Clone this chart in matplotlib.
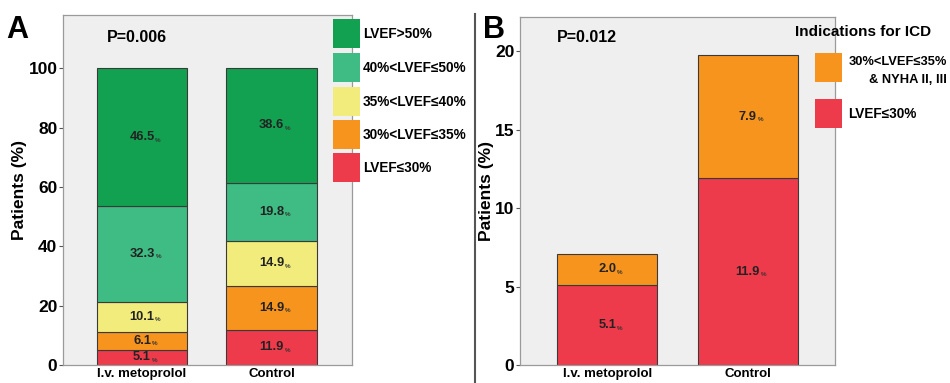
import matplotlib
matplotlib.use("Agg")
import matplotlib.pyplot as plt
from matplotlib.patches import Rectangle
from matplotlib.lines import Line2D

plt.rcParams["font.family"] = ["Liberation Sans", "DejaVu Sans"]
plt.rcParams["font.weight"] = "bold"

GROUPS = ["I.v. metoprolol", "Control"]

# panel A: LVEF categories, bottom -> top
A_LABELS = ["LVEF\u226430%", "30%<LVEF\u226435%", "35%<LVEF\u226440%", "40%<LVEF\u226450%", "LVEF>50%"]
A_METO = [5.1, 6.1, 10.1, 32.3, 46.5]
A_CTRL = [11.9, 14.9, 14.9, 19.8, 38.6]
A_COLORS = ["#ee3b4b", "#f7941e", "#f1ec7c", "#3fbb84", "#12a150"]

# panel B: indications for ICD, bottom -> top
B_LABELS = ["LVEF\u226430%", "30%<LVEF\u226435%", "& NYHA II, III"]
B_METO = [5.1, 2.0]
B_CTRL = [11.9, 7.9]
B_COLORS = ["#ee3b4b", "#f7941e"]

W, H = 950, 383
fig = plt.figure(figsize=(W / 100, H / 100), dpi=100)


def px(x, y):
    return x / W, 1 - y / H


def stacked(ax, meto, ctrl, colors, width):
    for col, vals in enumerate([meto, ctrl]):
        bottom = 0.0
        for v, c in zip(vals, colors):
            ax.bar(col, v, width, bottom=bottom, color=c, edgecolor="#3a3a3a", linewidth=0.8, zorder=2)
            num = ax.annotate(f"{v:.1f}", (col, bottom + v / 2), ha="center", va="center",
                              fontsize=9.3, fontweight="bold", color="#222222", zorder=3)
            ax.annotate("%", xy=(1, 0.25), xycoords=num, xytext=(0.5, 0), textcoords="offset points",
                        ha="left", va="center", fontsize=4.5, color="#333333", zorder=3)
            bottom += v


def style(ax):
    ax.set_facecolor("#efefef")
    for s in ax.spines.values():
        s.set_color("#9a9a9a")
        s.set_linewidth(0.9)
    ax.set_xticks([0, 1])
    ax.set_xticklabels(GROUPS, fontsize=9.5, fontweight="bold")
    ax.tick_params(axis="x", length=0, pad=2)
    ax.tick_params(axis="y", labelsize=12.5, length=3, width=0.8, color="#555555", pad=1)
    for t in ax.get_yticklabels():
        t.set_fontweight("bold")
    ax.set_ylabel("Patients (%)", fontsize=12.5, fontweight="bold", labelpad=1)


# ---- panel A
axA = fig.add_axes([63 / W, 18 / H, 289 / W, 350 / H])
stacked(axA, A_METO, A_CTRL, A_COLORS, 0.7)
axA.set_xlim(-0.61, 1.62)
axA.set_ylim(0, 118)
axA.set_yticks([0, 20, 40, 60, 80, 100])
style(axA)
axA.text(*px(107, 38), "P=0.006", transform=fig.transFigure, fontsize=11.5,
         fontweight="bold", va="center", ha="left")

tops = [153, 120, 87, 53, 19]
for lab, c, top in zip(A_LABELS, A_COLORS, tops):
    x0, y1 = px(333, top + 29)
    fig.add_artist(Rectangle((x0, y1), 27 / W, 29 / H, transform=fig.transFigure,
                             facecolor=c, edgecolor="none"))
    fig.text(*px(363, top + 15), lab, fontsize=9.8, fontweight="bold", va="center", ha="left")

# ---- panel B
axB = fig.add_axes([520 / W, 18 / H, 315 / W, 348 / H])
stacked(axB, B_METO, B_CTRL, B_COLORS, 0.71)
axB.set_xlim(-0.62, 1.62)
axB.set_ylim(0, 22.2)
axB.set_yticks([0, 5, 10, 15, 20])
style(axB)
axB.text(*px(557, 38), "P=0.012", transform=fig.transFigure, fontsize=11.5,
         fontweight="bold", va="center", ha="left")

fig.text(*px(795, 32), "Indications for ICD", fontsize=11, fontweight="bold", va="center", ha="left")
for c, top in zip(B_COLORS, [99, 53]):
    x0, y1 = px(815, top + 29)
    fig.add_artist(Rectangle((x0, y1), 27 / W, 29 / H, transform=fig.transFigure,
                             facecolor=c, edgecolor="none"))
fig.text(*px(947, 62), B_LABELS[1], fontsize=9.3, fontweight="bold", va="center", ha="right")
fig.text(*px(947, 80), B_LABELS[2], fontsize=9.3, fontweight="bold", va="center", ha="right")
fig.text(*px(848, 114), B_LABELS[0], fontsize=9.8, fontweight="bold", va="center", ha="left")

# panel letters and divider
fig.text(*px(6, 30), "A", fontsize=22, fontweight="bold", va="center", ha="left")
fig.text(*px(483, 30), "B", fontsize=22, fontweight="bold", va="center", ha="left")
fig.add_artist(Line2D([475 / W, 475 / W], [0, 1 - 14 / H], transform=fig.transFigure,
                      color="#555555", linewidth=1.5))

fig.savefig("out.png", dpi=100)
